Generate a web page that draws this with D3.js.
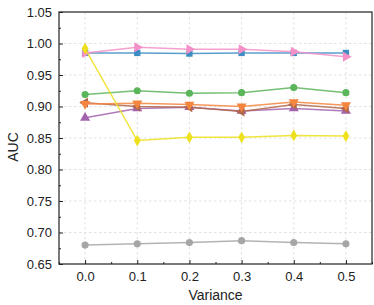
<!DOCTYPE html>
<html><head><meta charset="utf-8">
<script src="https://cdn.jsdelivr.net/npm/d3@7"></script>
<style>body{margin:0;background:#fff}svg{display:block}text{font-family:"Liberation Sans",Arial,sans-serif}</style>
</head><body><svg id="c" width="374" height="305"></svg>
<script>
const variance = [0.0, 0.1, 0.2, 0.3, 0.4, 0.5];
const xTicks = [0.0, 0.1, 0.2, 0.3, 0.4, 0.5];
const yTicks = [0.65, 0.70, 0.75, 0.80, 0.85, 0.90, 0.95, 1.00, 1.05];
const grayVals   = [0.680, 0.682, 0.684, 0.687, 0.684, 0.682];
const purpleVals = [0.882, 0.897, 0.899, 0.893, 0.897, 0.893];
const brownVals  = [0.906, 0.900, 0.899, 0.892, 0.903, 0.897];
const orangeVals = [0.904, 0.905, 0.903, 0.900, 0.907, 0.902];
const greenVals  = [0.919, 0.925, 0.921, 0.922, 0.930, 0.922];
const blueVals   = [0.985, 0.985, 0.984, 0.985, 0.985, 0.985];
const pinkVals   = [0.985, 0.994, 0.991, 0.991, 0.987, 0.979];
const yellowVals = [0.992, 0.846, 0.851, 0.851, 0.854, 0.853];

const series = [
  {v: grayVals,   c: "#a6a6a6", m: "circle"},
  {v: purpleVals, c: "#a262ad", m: "up"},
  {v: brownVals,  c: "#b0674b", m: "left"},
  {v: orangeVals, c: "#f4853f", m: "down"},
  {v: greenVals,  c: "#5bb55b", m: "circle"},
  {v: blueVals,   c: "#3d8dc4", m: "square"},
  {v: pinkVals,   c: "#f58fc8", m: "right"},
  {v: yellowVals, c: "#ede01c", m: "diamond"}
];

const svg = d3.select("#c");
const L = 59, R = 372, T = 12, B = 264;
const x = d3.scaleLinear().domain([-0.05, 0.55]).range([L, R]);
const y = d3.scaleLinear().domain([0.65, 1.05]).range([B, T]);

// grid
const g = svg.append("g");
g.selectAll(".vg").data(xTicks).join("line")
  .attr("x1", d => x(d)).attr("x2", d => x(d)).attr("y1", T).attr("y2", B)
  .attr("stroke", "#d9d9d9").attr("stroke-width", 0.8).attr("stroke-dasharray", "2.5,2.5");
g.selectAll(".hg").data(yTicks.slice(1, -1)).join("line")
  .attr("x1", L).attr("x2", R).attr("y1", d => y(d)).attr("y2", d => y(d))
  .attr("stroke", "#d9d9d9").attr("stroke-width", 0.8).attr("stroke-dasharray", "2.5,2.5");

// axes (ticks inward)
const fmt = d3.format(".2f");
const yAx = svg.append("g").attr("transform", `translate(${L},0)`)
  .call(d3.axisLeft(y).tickValues(yTicks).tickFormat(fmt).tickSizeInner(-4).tickSizeOuter(0).tickPadding(7));
const yMinor = svg.append("g").attr("transform", `translate(${L},0)`)
  .call(d3.axisLeft(y).tickValues(d3.range(0.675, 1.05, 0.05)).tickFormat("").tickSizeInner(-2).tickSizeOuter(0));
const xAx = svg.append("g").attr("transform", `translate(0,${B})`)
  .call(d3.axisBottom(x).tickValues(xTicks).tickFormat(d3.format(".1f")).tickSizeInner(-4).tickSizeOuter(0).tickPadding(8));
const xMinor = svg.append("g").attr("transform", `translate(0,${B})`)
  .call(d3.axisBottom(x).tickValues(d3.range(-0.05, 0.56, 0.1)).tickFormat("").tickSizeInner(-2).tickSizeOuter(0));
[yAx, yMinor, xAx, xMinor].forEach(a => {
  a.select(".domain").remove();
  a.selectAll("line").attr("stroke", "#222").attr("stroke-width", 1);
  a.selectAll("text").attr("font-size", 13).attr("fill", "#222").attr("font-family", "Liberation Sans, Arial, sans-serif");
});
svg.append("rect").attr("x", L).attr("y", T).attr("width", R - L).attr("height", B - T)
  .attr("fill", "none").attr("stroke", "#222").attr("stroke-width", 1.2);

// series
const line = d3.line().x((d, i) => x(variance[i])).y(d => y(d));
const sym = {
  circle: d3.symbol(d3.symbolCircle, 40),
  square: d3.symbol(d3.symbolSquare, 40),
  diamond: d3.symbol(d3.symbolDiamond, 40),
  up: d3.symbol(d3.symbolTriangle, 44),
  down: d3.symbol(d3.symbolTriangle, 44),
  left: d3.symbol(d3.symbolTriangle, 44),
  right: d3.symbol(d3.symbolTriangle, 44)
};
const rot = {up: 0, down: 180, left: -90, right: 90, circle: 0, square: 0, diamond: 0};
series.forEach(s => {
  svg.append("path").datum(s.v).attr("d", line).attr("fill", "none")
    .attr("stroke", s.c).attr("stroke-width", 1.5).attr("stroke-opacity", 0.85);
  svg.append("g").selectAll("path").data(s.v).join("path")
    .attr("d", sym[s.m])
    .attr("transform", (d, i) => `translate(${x(variance[i])},${y(d)}) rotate(${rot[s.m]})`)
    .attr("fill", s.c);
});

svg.append("text").attr("x", (L + R) / 2).attr("y", 300).attr("text-anchor", "middle")
  .attr("font-size", 14).attr("fill", "#222").text("Variance");
svg.append("text").attr("transform", `translate(18,147) rotate(-90)`).attr("text-anchor", "middle")
  .attr("font-size", 14).attr("fill", "#222").text("AUC");
</script></body></html>
